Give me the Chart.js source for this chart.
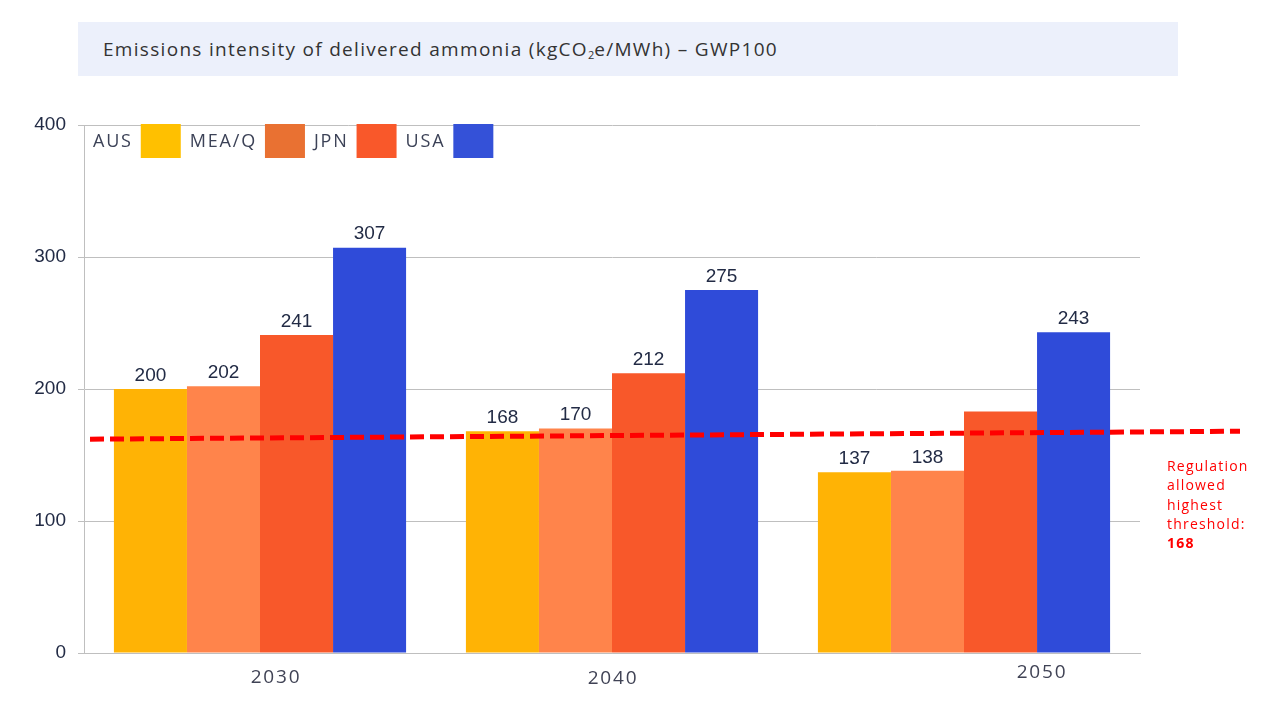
<!DOCTYPE html>
<html>
<head>
<meta charset="utf-8">
<script src="https://cdn.jsdelivr.net/npm/chart.js@4"></script>
<style>
  html, body { margin: 0; padding: 0; background: #fff; }
  #wrap { position: relative; width: 1280px; height: 720px; }
  #title {
    position: absolute; left: 78px; top: 22px; width: 1100px; height: 54px;
    background: #ecf0fb; box-sizing: border-box; padding-left: 25px;
    font-family: "Open Sans", sans-serif; font-size: 19px; color: #333;
    letter-spacing: 1.3px; line-height: 54px;
  }
  #title sub { font-size: 11px; vertical-align: -3px; line-height: 0; letter-spacing: 0; }
  canvas { position: absolute; left: 0; top: 0; }
</style>
</head>
<body>
<div id="wrap">
  <div id="title">Emissions intensity of delivered ammonia (kgCO<sub>2</sub>e/MWh) – GWP100</div>
  <canvas id="emissionsChart" width="1280" height="720"></canvas>
</div>
<script>
let years = ['2030', '2040', '2050'];
let regions = ['AUS', 'MEA/Q', 'JPN', 'USA'];

let aus = [200, 168, 137];
let meaq = [202, 170, 138];
let jpn = [241, 212, 183];
let usa = [307, 275, 243];

// JPN 2050 has no value label in the source
let unlabeled = [[], [], [2], []];

let yTicks = [0, 100, 200, 300, 400];

let thresholdFrom = 162;
let thresholdTo = 168;
let thresholdNote = ['Regulation', 'allowed', 'highest', 'threshold:'];
let thresholdValue = '168';

let barColors = ['#ffb305', '#ff844b', '#f8582a', '#2f4bd9'];
let legendColors = ['#ffc000', '#e97132', '#f9582a', '#3451d8'];

// small nudges so the year labels sit where the original put them
let yearShift = [[16, 30], [1, 31], [78, 25]];

const valueLabels = {
    id: 'valueLabels',
    afterDatasetsDraw(chart) {
        let ctx = chart.ctx;
        ctx.save();
        ctx.font = '19px "Liberation Sans", Arial, sans-serif';
        ctx.fillStyle = '#222b45';
        ctx.textAlign = 'center';
        ctx.textBaseline = 'bottom';
        chart.data.datasets.forEach((ds, di) => {
            let meta = chart.getDatasetMeta(di);
            meta.data.forEach((bar, i) => {
                if (unlabeled[di].includes(i)) return;
                ctx.fillText(String(ds.data[i]), bar.x, bar.y - 4);
            });
        });
        ctx.restore();
    }
};

const threshold = {
    id: 'threshold',
    afterDatasetsDraw(chart) {
        let ctx = chart.ctx;
        let y = chart.scales.y;
        let area = chart.chartArea;
        ctx.save();
        ctx.strokeStyle = '#ff0000';
        ctx.lineWidth = 5;
        ctx.setLineDash([14, 6]);
        ctx.beginPath();
        ctx.moveTo(area.left + 6, y.getPixelForValue(thresholdFrom));
        ctx.lineTo(area.right + 100, y.getPixelForValue(thresholdTo));
        ctx.stroke();
        ctx.setLineDash([]);

        ctx.fillStyle = '#ff0000';
        ctx.textAlign = 'left';
        ctx.textBaseline = 'alphabetic';
        ctx.letterSpacing = '1.2px';
        ctx.font = '14px "Open Sans", sans-serif';
        let x = area.right + 27;
        let top = 471;
        thresholdNote.forEach((line, i) => ctx.fillText(line, x, top + i * 19.3));
        ctx.font = 'bold 14px "Open Sans", sans-serif';
        ctx.fillText(thresholdValue, x, top + thresholdNote.length * 19.3);
        ctx.restore();
    }
};

const insideLegend = {
    id: 'insideLegend',
    afterDraw(chart) {
        let ctx = chart.ctx;
        let area = chart.chartArea;
        ctx.save();
        ctx.font = '18px "Open Sans", sans-serif';
        ctx.letterSpacing = '1.8px';
        ctx.textBaseline = 'middle';
        let x = area.left + 9;
        let boxTop = area.top - 1;
        chart.data.datasets.forEach((ds, i) => {
            ctx.fillStyle = '#3c4257';
            ctx.fillText(ds.label, x, boxTop + 18);
            x += ctx.measureText(ds.label).width + 8;
            ctx.fillStyle = legendColors[i];
            ctx.fillRect(x, boxTop, 40, 34);
            x += 40 + 9;
        });
        ctx.restore();
    }
};

const yearLabels = {
    id: 'yearLabels',
    afterDraw(chart) {
        let ctx = chart.ctx;
        let xs = chart.scales.x;
        ctx.save();
        ctx.font = '19px "Open Sans", sans-serif';
        ctx.letterSpacing = '1.8px';
        ctx.fillStyle = '#404355';
        ctx.textAlign = 'center';
        ctx.textBaseline = 'alphabetic';
        years.forEach((yr, i) => {
            ctx.fillText(yr, xs.getPixelForValue(i) + yearShift[i][0], xs.bottom - xs.height + yearShift[i][1]);
        });
        ctx.restore();
    }
};

let ctx = document.getElementById('emissionsChart').getContext('2d');
let chart = new Chart(ctx, {
    type: 'bar',
    data: {
        labels: years,
        datasets: [aus, meaq, jpn, usa].map((vals, i) => ({
            label: regions[i],
            data: vals,
            backgroundColor: barColors[i],
            borderWidth: 0,
            categoryPercentage: 0.83,
            barPercentage: 1.0
        }))
    },
    options: {
        responsive: false,
        animation: false,
        layout: { padding: { top: 125, right: 140, left: 0, bottom: 0 } },
        plugins: {
            legend: { display: false },
            tooltip: { enabled: false }
        },
        scales: {
            x: {
                grid: { display: false },
                border: { display: true, color: '#bfbfbf', width: 1 },
                ticks: { display: false },
                afterFit(scale) { scale.height = 67; }
            },
            y: {
                min: 0,
                max: 400,
                afterBuildTicks(scale) { scale.ticks = yTicks.map(v => ({ value: v })); },
                grid: { color: '#bfbfbf', lineWidth: 1, tickLength: 6 },
                border: { display: true, color: '#bfbfbf', width: 1 },
                ticks: {
                    padding: 12,
                    color: '#222b45',
                    font: { family: '"Liberation Sans", Arial, sans-serif', size: 19 }
                },
                afterFit(scale) { scale.width = 84; }
            }
        }
    },
    plugins: [valueLabels, threshold, insideLegend, yearLabels]
});
</script>
</body>
</html>
